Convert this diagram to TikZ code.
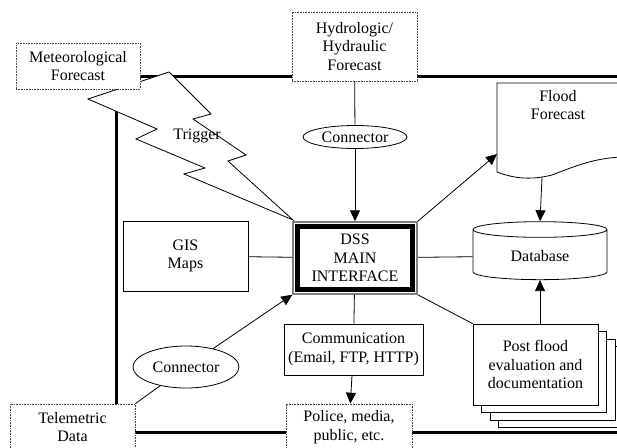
\documentclass[tikz,border=0pt]{standalone}
\usepackage{fontspec}
\setmainfont{Liberation Serif}
\usetikzlibrary{shapes.geometric,arrows.meta}

\begin{document}
\begin{tikzpicture}[x=1pt, y=1pt, line width=0.8pt,
  font=\fontsize{16}{18.5}\selectfont,
  box/.style={draw, fill=white, align=center, inner sep=0pt},
  dotbox/.style={box, draw=black!75, line width=0.6pt, dash pattern=on 0.8pt off 0.8pt},
  conn/.style={draw, ellipse, fill=white, inner sep=0pt},
  arr/.style={-{Triangle[length=11pt,width=10pt]}}]
\useasboundingbox (0,0) rectangle (617,-447);

% outer frame
\draw[line width=3pt] (116,-76) rectangle (640,-432);

% trigger bolt
\draw[fill=white] (169,-72) -- (211,-114) -- (193,-119) -- (246,-155) -- (228,-161) -- (293,-220)
  -- (184,-174) -- (205,-168) -- (136,-139) -- (157,-129) -- (88,-99) -- cycle;
\node (trigger) at (197,-136) {Trigger};

% sources and receivers
\node[dotbox, minimum width=124pt, minimum height=46pt] (met) at (78,-66) {Meteorological\\Forecast};
\node[dotbox, minimum width=125pt, minimum height=69pt] (hyd) at (354.5,-46.5) {Hydrologic/\\Hydraulic\\Forecast};
\node[dotbox, minimum width=125pt, minimum height=46pt] (tele) at (72.5,-427) {Telemetric\\Data};
\node[dotbox, minimum width=126pt, minimum height=46pt] (police) at (349,-427) {Police, media,\\public, etc.};

% connectors
\node[conn, minimum width=104pt, minimum height=23pt] (conn1) at (355,-137) {Connector};
\node[conn, minimum width=106pt, minimum height=42pt] (conn2) at (186,-367) {Connector};

% main interface
\node[draw=black!50, line width=1.5pt, fill=white, minimum width=124pt, minimum height=72pt] (dssf) at (355,-258) {};
\node[draw, line width=4.5pt, minimum width=115pt, minimum height=63pt, align=center] (dss) at (355,-258) {DSS\\MAIN\\INTERFACE};

\node[box, minimum width=125pt, minimum height=70pt] (gis) at (185.5,-256) {GIS\\Maps};
\node[box, minimum width=139pt, minimum height=51pt] (comm) at (353.5,-349.5) {Communication\\(Email, FTP, HTTP)};

% flood forecast document
\draw[fill=white] (497,-172) -- (497,-83) -- (622,-83) -- (622,-157)
  .. controls (595,-158) and (575,-166) .. (552,-175)
  .. controls (532,-180) and (515,-179) .. cycle;
\node[align=center] (flood) at (558,-105) {Flood\\Forecast};
\path (497,-154) coordinate (floodin);
\path (542,-177) coordinate (floodout);

% database
\node[draw, cylinder, shape border rotate=90, aspect=0.24, minimum width=134pt, minimum height=58pt] (db) at (540,-256) {Database};

% post flood stack
\foreach \i in {3,2,1}
  \draw[fill=white] (473+8.6*\i,-324-7.6*\i) rectangle (598+8.6*\i,-405-7.6*\i);
\node[box, minimum width=125pt, minimum height=81pt] (post) at (535.5,-364.5) {Post flood\\evaluation and\\documentation};

% links
\draw (hyd) -- (conn1);
\draw[arr] (conn1) -- (dssf.north);
\draw (gis) -- (dssf);
\draw (dssf) -- (db);
\draw[arr] (dssf.north east) -- (floodin);
\draw[arr] (floodout) -- (db.top);
\draw[arr] (post.north -| db.bottom) -- (db.bottom);
\draw (dssf.south east) -- (post.north west);
\draw (dssf) -- (comm);
\draw[arr] (comm) -- (police);
\draw (tele.north east) -- (conn2);
\draw[arr] (conn2) -- (dssf.south west);
\end{tikzpicture}
\end{document}
